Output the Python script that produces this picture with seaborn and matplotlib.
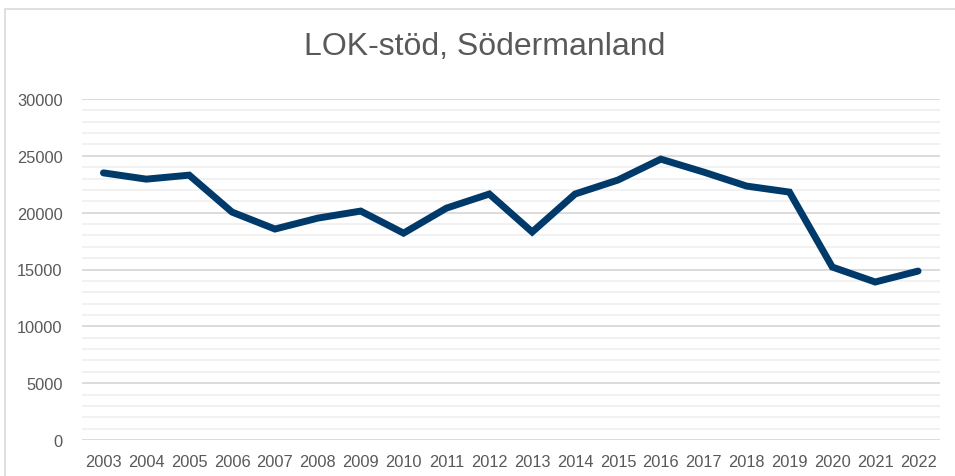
import matplotlib
matplotlib.use("Agg")
import matplotlib.pyplot as plt
import seaborn as sns
import pandas as pd
from matplotlib.patches import Rectangle
from matplotlib.ticker import MultipleLocator

years = [str(y) for y in range(2003, 2023)]
lok_stod = [23500, 22950, 23300, 20050, 18560, 19520, 20140, 18200, 20400, 21640,
            18300, 21640, 22870, 24710, 23570, 22340, 21810, 15215, 13900, 14860]

df = pd.DataFrame({"year": years, "value": lok_stod})

sns.set_theme(style="white")
plt.rcParams["font.family"] = ["Liberation Sans", "DejaVu Sans"]

fig = plt.figure(figsize=(9.55, 4.77), dpi=100)
ax = fig.add_axes([82 / 955, 1 - 441 / 477, (939.5 - 82) / 955, 341 / 477])

sns.lineplot(data=df, x="year", y="value", ax=ax, color="#003a6b",
             linewidth=5, sort=False, solid_capstyle="round", solid_joinstyle="miter")

ax.set_ylim(0, 30000)
ax.set_xlim(-0.5, len(years) - 0.5)
ax.yaxis.set_major_locator(MultipleLocator(5000))
ax.yaxis.set_minor_locator(MultipleLocator(1000))
ax.grid(which="major", axis="y", color="#d9d9d9", linewidth=1.3)
ax.grid(which="minor", axis="y", color="#f0f0f0", linewidth=1.3)
ax.set_axisbelow(True)
for s in ax.spines.values():
    s.set_visible(False)
ax.tick_params(axis="both", which="both", length=0, labelsize=11.8, labelcolor="#595959")
ax.tick_params(axis="y", pad=14)
ax.tick_params(axis="x", pad=10)
ax.set_xlabel("")
ax.set_ylabel("")

fig.text(485 / 955, 1 - 47 / 477, "LOK-stöd, Södermanland", ha="center", va="center",
         fontsize=23, color="#595959")

fig.patches.append(Rectangle((5 / 955, -0.05), 1.1, 1.05 - 10 / 477, transform=fig.transFigure,
                             fill=False, edgecolor="#d9d9d9", linewidth=1.2))

fig.savefig("out.png", dpi=100)
